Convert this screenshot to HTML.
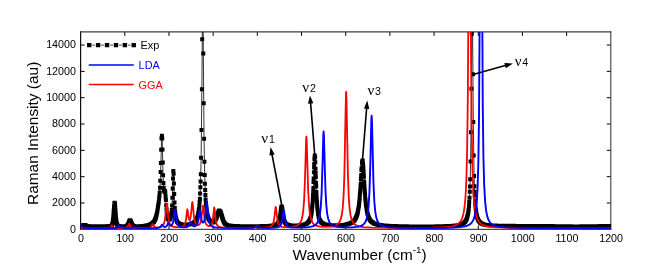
<!DOCTYPE html>
<html><head><meta charset="utf-8"><style>
html,body{margin:0;padding:0;background:#fff;}
svg{display:block;font-family:"Liberation Sans",sans-serif;}
</style></head><body>
<svg width="667" height="265" viewBox="0 0 667 265" style="will-change:transform">
<rect width="667" height="265" fill="#fff"/>
<defs><clipPath id="c"><rect x="80.6" y="31.9" width="530.4999999999999" height="197.5"/></clipPath></defs>
<path d="M124.78,31.90v4M124.78,229.30v-4M168.97,31.90v4M168.97,229.30v-4M213.15,31.90v4M213.15,229.30v-4M257.33,31.90v4M257.33,229.30v-4M301.52,31.90v4M301.52,229.30v-4M345.70,31.90v4M345.70,229.30v-4M389.88,31.90v4M389.88,229.30v-4M434.07,31.90v4M434.07,229.30v-4M478.25,31.90v4M478.25,229.30v-4M522.43,31.90v4M522.43,229.30v-4M566.62,31.90v4M566.62,229.30v-4M80.60,202.98h4M610.80,202.98h-4M80.60,176.66h4M610.80,176.66h-4M80.60,150.34h4M610.80,150.34h-4M80.60,124.02h4M610.80,124.02h-4M80.60,97.70h4M610.80,97.70h-4M80.60,71.38h4M610.80,71.38h-4M80.60,45.06h4M610.80,45.06h-4" stroke="#000" stroke-width="1" fill="none"/>
<path d="M80.6,31.349999999999998V229.8" stroke="#0d0d0d" stroke-width="1.2" fill="none"/><path d="M80.1,31.9H611.3" stroke="#3c3c3c" stroke-width="1.1" fill="none"/><path d="M610.8,31.349999999999998V229.8" stroke="#3c3c3c" stroke-width="1.1" fill="none"/><path d="M80.1,229.3H611.3" stroke="#1a1a1a" stroke-width="1.0" fill="none"/>
<g clip-path="url(#c)">
<path d="M83.25,225.46 L84.49,225.07 L85.55,225.29 L87.67,226.07 L92.09,226.22 L109.23,226.09 L111.17,225.80 L111.88,225.25 L112.41,223.86 L113.12,218.76 L114.18,205.62 L114.53,202.82 L114.71,202.43 L115.06,204.61 L116.12,218.96 L116.83,223.94 L117.36,225.32 L118.07,225.90 L120.54,226.26 L125.14,226.26 L126.73,225.89 L127.61,225.14 L128.49,223.47 L129.73,220.25 L130.09,219.89 L130.26,220.26 L130.44,220.26 L132.21,224.63 L133.09,225.69 L134.15,226.16 L137.33,226.35 L143.52,225.97 L147.94,225.21 L150.41,224.39 L152.18,223.35 L152.53,223.20 L153.59,222.00 L154.65,220.42 L155.71,218.06 L156.90,213.62 L157.83,208.19 L158.76,201.85 L159.69,192.53 L160.31,180.66 L160.93,163.09 L161.54,138.33 L161.85,135.66 L162.16,138.39 L163.09,175.26 L163.71,187.78 L164.02,190.49 L164.64,191.77 L164.95,190.68 L165.26,192.53 L166.80,213.15 L167.42,217.37 L167.73,218.49 L168.35,219.43 L168.66,219.69 L168.97,219.57 L169.28,219.68 L169.89,219.18 L170.20,218.77 L171.13,215.40 L171.75,210.14 L172.37,197.81 L173.30,170.91 L173.61,173.76 L174.53,202.47 L175.15,212.12 L175.77,217.20 L176.39,219.82 L177.01,221.29 L178.25,223.08 L179.22,223.65 L180.63,224.21 L183.28,224.63 L186.64,224.63 L190.35,224.21 L191.41,223.90 L191.59,223.75 L191.77,223.83 L193.00,223.20 L193.71,222.81 L194.59,222.21 L195.48,221.18 L195.83,220.81 L196.54,219.52 L196.89,218.35 L197.07,218.27 L197.60,216.91 L197.95,215.57 L198.66,211.81 L199.63,202.12 L200.14,193.40 L200.78,174.35 L201.13,157.65 L201.87,89.25 L202.60,4.16 L202.96,12.17 L204.07,138.76 L204.71,175.15 L205.37,195.09 L206.26,207.44 L206.96,212.71 L207.67,216.06 L207.85,216.33 L208.55,218.65 L208.91,219.15 L209.26,220.05 L209.79,220.87 L210.15,221.08 L210.32,221.44 L210.85,221.71 L211.03,221.94 L211.21,221.87 L211.56,222.27 L211.74,222.23 L211.91,222.43 L212.09,222.36 L212.27,222.53 L212.44,222.44 L212.62,222.54 L213.50,222.29 L213.68,222.39 L214.39,221.67 L214.56,221.26 L214.74,221.31 L215.27,220.34 L215.45,220.34 L215.62,219.61 L215.98,219.23 L217.21,215.43 L217.39,215.23 L217.75,213.56 L218.10,213.10 L218.45,211.44 L218.63,211.55 L219.16,210.49 L219.69,210.94 L220.04,210.73 L220.22,211.29 L220.40,211.44 L221.46,214.69 L222.87,219.34 L223.22,220.47 L223.58,221.19 L223.93,222.09 L225.17,223.87 L226.40,224.78 L228.35,225.39 L233.83,225.96 L246.20,226.31 L265.11,226.07 L272.36,225.62 L275.18,225.06 L276.60,224.42 L277.83,223.28 L278.54,222.23 L279.42,219.81 L279.96,216.76 L280.13,216.31 L281.19,207.96 L281.55,206.40 L281.90,206.95 L282.43,210.40 L283.31,217.41 L284.37,221.30 L285.26,223.05 L286.49,224.19 L288.08,224.90 L290.91,225.37 L296.57,225.47 L301.87,225.07 L304.52,224.52 L306.29,223.86 L307.70,222.86 L308.76,221.73 L310.00,219.53 L311.06,215.69 L311.94,209.76 L312.83,199.04 L313.71,178.43 L314.42,158.87 L314.77,155.43 L314.95,155.67 L315.13,157.31 L316.54,195.63 L317.25,206.47 L318.13,213.68 L318.66,216.28 L319.37,219.20 L319.54,219.36 L320.43,221.19 L320.78,221.76 L320.96,221.81 L321.66,222.74 L322.37,223.17 L322.72,223.54 L323.61,223.82 L323.79,224.04 L324.67,224.27 L325.20,224.49 L329.09,225.10 L335.63,225.35 L343.05,225.05 L345.70,224.73 L346.05,224.43 L347.47,224.19 L348.70,223.96 L349.06,223.81 L350.65,223.23 L352.42,222.36 L352.59,222.12 L352.77,222.12 L352.95,221.75 L353.12,221.81 L353.48,221.34 L354.01,221.03 L355.07,219.47 L355.24,219.08 L355.42,219.03 L355.60,218.19 L355.77,218.32 L356.83,215.39 L357.01,215.50 L357.36,213.85 L358.25,209.72 L358.42,208.22 L358.60,207.93 L359.66,198.25 L360.72,184.01 L361.08,176.71 L361.25,175.05 L361.43,169.97 L361.78,167.83 L362.14,161.50 L362.31,161.56 L362.49,161.96 L362.67,160.58 L363.37,168.37 L363.90,176.75 L364.08,181.56 L365.49,199.92 L366.02,205.12 L366.38,207.18 L366.91,210.59 L367.44,213.68 L367.97,214.92 L368.32,216.49 L369.03,218.23 L369.38,218.73 L370.09,220.12 L370.27,220.21 L370.44,220.66 L370.80,220.79 L371.15,221.35 L372.56,222.54 L372.92,222.88 L373.27,222.97 L375.04,223.87 L378.04,224.72 L383.34,225.47 L393.95,226.07 L417.10,226.43 L442.55,226.24 L453.68,225.75 L458.81,225.09 L461.28,224.46 L462.87,223.70 L463.76,223.16 L463.93,222.85 L464.64,222.38 L464.82,221.96 L465.53,221.18 L466.41,219.67 L466.76,218.64 L466.94,218.36 L467.47,216.09 L467.65,215.82 L468.71,209.06 L469.50,197.75 L470.21,179.24 L470.59,161.60 L471.00,132.33 L472.15,-0.52 L472.53,20.89 L473.30,122.01 L474.10,176.04 L474.58,191.80 L475.33,204.78 L476.13,211.96 L477.01,216.58 L477.54,218.38 L477.72,218.51 L478.43,220.34 L478.96,221.33 L479.13,221.38 L479.31,221.77 L480.90,223.09 L482.14,223.83 L482.67,223.98 L483.02,224.16 L486.38,224.97 L492.57,225.51 L509.89,225.83 L580.40,226.36 L610.62,225.99" stroke="#000" stroke-width="0.8" fill="none"/>
<path d="M81.3,223.5h4.0v4.0h-4.0zM81.8,223.2h4.0v4.0h-4.0zM82.3,223.1h4.0v4.0h-4.0zM82.8,223.1h4.0v4.0h-4.0zM83.4,223.2h4.0v4.0h-4.0zM83.9,223.5h4.0v4.0h-4.0zM84.4,223.7h4.0v4.0h-4.0zM85.0,223.9h4.0v4.0h-4.0zM85.5,224.0h4.0v4.0h-4.0zM86.0,224.1h4.0v4.0h-4.0zM86.6,224.2h4.0v4.0h-4.0zM87.1,224.2h4.0v4.0h-4.0zM87.6,224.2h4.0v4.0h-4.0zM88.1,224.2h4.0v4.0h-4.0zM88.7,224.2h4.0v4.0h-4.0zM89.2,224.2h4.0v4.0h-4.0zM89.7,224.2h4.0v4.0h-4.0zM90.3,224.2h4.0v4.0h-4.0zM90.8,224.2h4.0v4.0h-4.0zM91.3,224.2h4.0v4.0h-4.0zM91.9,224.2h4.0v4.0h-4.0zM92.4,224.2h4.0v4.0h-4.0zM92.9,224.2h4.0v4.0h-4.0zM93.4,224.2h4.0v4.0h-4.0zM94.0,224.2h4.0v4.0h-4.0zM94.5,224.2h4.0v4.0h-4.0zM95.0,224.2h4.0v4.0h-4.0zM95.6,224.2h4.0v4.0h-4.0zM96.1,224.2h4.0v4.0h-4.0zM96.6,224.2h4.0v4.0h-4.0zM97.2,224.2h4.0v4.0h-4.0zM97.7,224.2h4.0v4.0h-4.0zM98.2,224.2h4.0v4.0h-4.0zM98.7,224.2h4.0v4.0h-4.0zM99.3,224.2h4.0v4.0h-4.0zM99.8,224.2h4.0v4.0h-4.0zM100.3,224.2h4.0v4.0h-4.0zM100.9,224.2h4.0v4.0h-4.0zM101.4,224.2h4.0v4.0h-4.0zM101.9,224.2h4.0v4.0h-4.0zM102.5,224.2h4.0v4.0h-4.0zM103.0,224.2h4.0v4.0h-4.0zM103.5,224.2h4.0v4.0h-4.0zM104.0,224.2h4.0v4.0h-4.0zM104.6,224.2h4.0v4.0h-4.0zM105.1,224.2h4.0v4.0h-4.0zM105.6,224.2h4.0v4.0h-4.0zM106.2,224.1h4.0v4.0h-4.0zM106.7,224.1h4.0v4.0h-4.0zM107.2,224.1h4.0v4.0h-4.0zM107.8,224.0h4.0v4.0h-4.0zM108.3,224.0h4.0v4.0h-4.0zM108.8,223.9h4.0v4.0h-4.0zM109.4,223.7h4.0v4.0h-4.0zM109.9,223.2h4.0v4.0h-4.0zM110.2,222.4h4.0v4.0h-4.0zM110.4,221.9h4.0v4.0h-4.0zM110.6,221.1h4.0v4.0h-4.0zM110.8,219.8h4.0v4.0h-4.0zM110.9,218.6h4.0v4.0h-4.0zM111.1,216.8h4.0v4.0h-4.0zM111.3,214.7h4.0v4.0h-4.0zM111.5,212.6h4.0v4.0h-4.0zM111.6,210.1h4.0v4.0h-4.0zM111.8,207.7h4.0v4.0h-4.0zM112.0,205.2h4.0v4.0h-4.0zM112.2,203.6h4.0v4.0h-4.0zM112.4,202.0h4.0v4.0h-4.0zM112.5,200.8h4.0v4.0h-4.0zM112.9,201.4h4.0v4.0h-4.0zM113.1,202.6h4.0v4.0h-4.0zM113.2,205.0h4.0v4.0h-4.0zM113.4,207.7h4.0v4.0h-4.0zM113.6,210.1h4.0v4.0h-4.0zM113.8,212.9h4.0v4.0h-4.0zM113.9,215.0h4.0v4.0h-4.0zM114.1,217.0h4.0v4.0h-4.0zM114.3,218.5h4.0v4.0h-4.0zM114.5,219.9h4.0v4.0h-4.0zM114.7,221.1h4.0v4.0h-4.0zM114.8,221.9h4.0v4.0h-4.0zM115.0,222.6h4.0v4.0h-4.0zM115.4,223.3h4.0v4.0h-4.0zM115.9,223.8h4.0v4.0h-4.0zM116.4,224.0h4.0v4.0h-4.0zM117.0,224.1h4.0v4.0h-4.0zM117.5,224.2h4.0v4.0h-4.0zM118.0,224.2h4.0v4.0h-4.0zM118.5,224.3h4.0v4.0h-4.0zM119.1,224.3h4.0v4.0h-4.0zM119.6,224.3h4.0v4.0h-4.0zM120.1,224.3h4.0v4.0h-4.0zM120.7,224.3h4.0v4.0h-4.0zM121.2,224.3h4.0v4.0h-4.0zM121.7,224.3h4.0v4.0h-4.0zM122.3,224.3h4.0v4.0h-4.0zM122.8,224.3h4.0v4.0h-4.0zM123.3,224.2h4.0v4.0h-4.0zM123.8,224.2h4.0v4.0h-4.0zM124.4,224.0h4.0v4.0h-4.0zM124.9,223.8h4.0v4.0h-4.0zM125.4,223.3h4.0v4.0h-4.0zM125.8,222.9h4.0v4.0h-4.0zM126.1,222.3h4.0v4.0h-4.0zM126.5,221.5h4.0v4.0h-4.0zM126.8,220.4h4.0v4.0h-4.0zM127.2,219.5h4.0v4.0h-4.0zM127.4,219.0h4.0v4.0h-4.0zM127.7,218.2h4.0v4.0h-4.0zM128.3,218.3h4.0v4.0h-4.0zM128.8,219.2h4.0v4.0h-4.0zM129.1,220.1h4.0v4.0h-4.0zM129.5,221.0h4.0v4.0h-4.0zM129.7,221.4h4.0v4.0h-4.0zM130.0,222.2h4.0v4.0h-4.0zM130.4,222.9h4.0v4.0h-4.0zM130.7,223.4h4.0v4.0h-4.0zM131.3,223.8h4.0v4.0h-4.0zM131.8,224.1h4.0v4.0h-4.0zM132.3,224.2h4.0v4.0h-4.0zM132.9,224.3h4.0v4.0h-4.0zM133.4,224.3h4.0v4.0h-4.0zM133.9,224.3h4.0v4.0h-4.0zM134.4,224.4h4.0v4.0h-4.0zM135.0,224.4h4.0v4.0h-4.0zM135.5,224.4h4.0v4.0h-4.0zM136.0,224.3h4.0v4.0h-4.0zM136.6,224.3h4.0v4.0h-4.0zM137.1,224.3h4.0v4.0h-4.0zM137.6,224.3h4.0v4.0h-4.0zM138.2,224.3h4.0v4.0h-4.0zM138.7,224.2h4.0v4.0h-4.0zM139.2,224.2h4.0v4.0h-4.0zM139.7,224.1h4.0v4.0h-4.0zM140.3,224.1h4.0v4.0h-4.0zM140.8,224.0h4.0v4.0h-4.0zM141.3,224.0h4.0v4.0h-4.0zM141.9,223.9h4.0v4.0h-4.0zM142.4,223.9h4.0v4.0h-4.0zM142.9,223.8h4.0v4.0h-4.0zM143.5,223.7h4.0v4.0h-4.0zM144.0,223.6h4.0v4.0h-4.0zM144.5,223.5h4.0v4.0h-4.0zM145.1,223.4h4.0v4.0h-4.0zM145.6,223.3h4.0v4.0h-4.0zM146.1,223.2h4.0v4.0h-4.0zM146.6,223.0h4.0v4.0h-4.0zM147.2,222.9h4.0v4.0h-4.0zM147.7,222.7h4.0v4.0h-4.0zM148.2,222.5h4.0v4.0h-4.0zM148.8,222.3h4.0v4.0h-4.0zM149.3,222.0h4.0v4.0h-4.0zM149.8,221.6h4.0v4.0h-4.0zM150.4,221.2h4.0v4.0h-4.0zM150.9,220.8h4.0v4.0h-4.0zM151.2,220.3h4.0v4.0h-4.0zM151.8,219.9h4.0v4.0h-4.0zM152.1,219.2h4.0v4.0h-4.0zM152.7,218.4h4.0v4.0h-4.0zM153.0,217.6h4.0v4.0h-4.0zM153.4,217.0h4.0v4.0h-4.0zM153.7,216.1h4.0v4.0h-4.0zM153.9,215.6h4.0v4.0h-4.0zM154.1,214.8h4.0v4.0h-4.0zM154.2,214.1h4.0v4.0h-4.0zM154.4,213.5h4.0v4.0h-4.0zM154.6,212.7h4.0v4.0h-4.0zM154.9,211.6h4.0v4.0h-4.0zM155.2,209.9h4.0v4.0h-4.0zM155.5,208.3h4.0v4.0h-4.0zM155.8,206.2h4.0v4.0h-4.0zM156.1,203.7h4.0v4.0h-4.0zM156.5,201.7h4.0v4.0h-4.0zM156.8,199.8h4.0v4.0h-4.0zM157.1,196.6h4.0v4.0h-4.0zM157.4,193.7h4.0v4.0h-4.0zM157.7,190.5h4.0v4.0h-4.0zM158.0,185.7h4.0v4.0h-4.0zM158.3,178.7h4.0v4.0h-4.0zM158.6,170.0h4.0v4.0h-4.0zM158.9,161.1h4.0v4.0h-4.0zM159.2,147.7h4.0v4.0h-4.0zM159.5,136.3h4.0v4.0h-4.0zM159.9,133.7h4.0v4.0h-4.0zM160.2,136.4h4.0v4.0h-4.0zM160.5,147.4h4.0v4.0h-4.0zM160.8,160.4h4.0v4.0h-4.0zM161.1,173.3h4.0v4.0h-4.0zM161.4,181.0h4.0v4.0h-4.0zM161.7,185.8h4.0v4.0h-4.0zM162.0,188.5h4.0v4.0h-4.0zM162.3,189.0h4.0v4.0h-4.0zM162.6,189.8h4.0v4.0h-4.0zM162.9,188.7h4.0v4.0h-4.0zM163.3,190.5h4.0v4.0h-4.0zM163.6,194.5h4.0v4.0h-4.0zM163.9,198.0h4.0v4.0h-4.0zM164.2,203.2h4.0v4.0h-4.0zM164.5,207.4h4.0v4.0h-4.0zM164.8,211.1h4.0v4.0h-4.0zM165.1,213.5h4.0v4.0h-4.0zM165.4,215.4h4.0v4.0h-4.0zM165.7,216.5h4.0v4.0h-4.0zM166.0,217.0h4.0v4.0h-4.0zM166.7,217.7h4.0v4.0h-4.0zM167.3,217.7h4.0v4.0h-4.0zM167.9,217.2h4.0v4.0h-4.0zM168.5,215.9h4.0v4.0h-4.0zM168.8,214.5h4.0v4.0h-4.0zM169.1,213.4h4.0v4.0h-4.0zM169.4,211.1h4.0v4.0h-4.0zM169.8,208.1h4.0v4.0h-4.0zM170.1,203.4h4.0v4.0h-4.0zM170.4,195.8h4.0v4.0h-4.0zM170.7,186.5h4.0v4.0h-4.0zM171.0,176.5h4.0v4.0h-4.0zM171.3,168.9h4.0v4.0h-4.0zM171.6,171.8h4.0v4.0h-4.0zM171.9,181.4h4.0v4.0h-4.0zM172.2,192.1h4.0v4.0h-4.0zM172.5,200.5h4.0v4.0h-4.0zM172.8,206.0h4.0v4.0h-4.0zM173.2,210.1h4.0v4.0h-4.0zM173.5,213.0h4.0v4.0h-4.0zM173.8,215.2h4.0v4.0h-4.0zM174.1,216.8h4.0v4.0h-4.0zM174.4,217.8h4.0v4.0h-4.0zM174.7,218.8h4.0v4.0h-4.0zM175.0,219.3h4.0v4.0h-4.0zM175.3,219.9h4.0v4.0h-4.0zM175.9,220.7h4.0v4.0h-4.0zM176.6,221.2h4.0v4.0h-4.0zM177.0,221.6h4.0v4.0h-4.0zM177.6,221.9h4.0v4.0h-4.0zM178.1,222.1h4.0v4.0h-4.0zM178.6,222.2h4.0v4.0h-4.0zM179.2,222.3h4.0v4.0h-4.0zM179.7,222.4h4.0v4.0h-4.0zM180.2,222.5h4.0v4.0h-4.0zM180.8,222.6h4.0v4.0h-4.0zM181.3,222.6h4.0v4.0h-4.0zM181.8,222.6h4.0v4.0h-4.0zM182.3,222.7h4.0v4.0h-4.0zM182.9,222.7h4.0v4.0h-4.0zM183.4,222.7h4.0v4.0h-4.0zM183.9,222.6h4.0v4.0h-4.0zM184.5,222.6h4.0v4.0h-4.0zM185.0,222.6h4.0v4.0h-4.0zM185.5,222.6h4.0v4.0h-4.0zM186.1,222.5h4.0v4.0h-4.0zM186.6,222.5h4.0v4.0h-4.0zM187.1,222.4h4.0v4.0h-4.0zM187.6,222.3h4.0v4.0h-4.0zM188.2,222.2h4.0v4.0h-4.0zM188.7,222.1h4.0v4.0h-4.0zM189.2,222.0h4.0v4.0h-4.0zM189.8,221.8h4.0v4.0h-4.0zM190.3,221.5h4.0v4.0h-4.0zM190.8,221.4h4.0v4.0h-4.0zM191.4,221.1h4.0v4.0h-4.0zM191.9,220.6h4.0v4.0h-4.0zM192.4,220.3h4.0v4.0h-4.0zM192.9,219.8h4.0v4.0h-4.0zM193.5,219.2h4.0v4.0h-4.0zM194.0,218.4h4.0v4.0h-4.0zM194.4,217.9h4.0v4.0h-4.0zM194.7,217.0h4.0v4.0h-4.0zM194.9,216.4h4.0v4.0h-4.0zM195.2,215.8h4.0v4.0h-4.0zM195.4,215.2h4.0v4.0h-4.0zM195.8,214.0h4.0v4.0h-4.0zM196.1,212.3h4.0v4.0h-4.0zM196.3,211.4h4.0v4.0h-4.0zM196.5,210.6h4.0v4.0h-4.0zM196.7,209.8h4.0v4.0h-4.0zM196.8,208.0h4.0v4.0h-4.0zM197.0,206.9h4.0v4.0h-4.0zM197.4,203.5h4.0v4.0h-4.0zM197.6,200.1h4.0v4.0h-4.0zM197.9,196.9h4.0v4.0h-4.0zM198.1,191.4h4.0v4.0h-4.0zM198.4,185.2h4.0v4.0h-4.0zM198.6,179.6h4.0v4.0h-4.0zM198.8,172.3h4.0v4.0h-4.0zM199.1,155.7h4.0v4.0h-4.0zM199.5,128.1h4.0v4.0h-4.0zM199.9,87.3h4.0v4.0h-4.0zM200.2,37.2h4.0v4.0h-4.0zM201.3,51.6h4.0v4.0h-4.0zM201.7,101.3h4.0v4.0h-4.0zM202.1,136.8h4.0v4.0h-4.0zM202.4,159.8h4.0v4.0h-4.0zM202.7,173.1h4.0v4.0h-4.0zM202.9,181.7h4.0v4.0h-4.0zM203.2,188.1h4.0v4.0h-4.0zM203.4,193.1h4.0v4.0h-4.0zM203.6,197.6h4.0v4.0h-4.0zM203.9,201.2h4.0v4.0h-4.0zM204.1,203.2h4.0v4.0h-4.0zM204.3,205.4h4.0v4.0h-4.0zM204.4,206.9h4.0v4.0h-4.0zM204.6,208.5h4.0v4.0h-4.0zM204.8,209.3h4.0v4.0h-4.0zM205.0,210.7h4.0v4.0h-4.0zM205.1,211.5h4.0v4.0h-4.0zM205.3,212.6h4.0v4.0h-4.0zM205.5,213.3h4.0v4.0h-4.0zM205.7,214.1h4.0v4.0h-4.0zM206.0,215.1h4.0v4.0h-4.0zM206.2,215.7h4.0v4.0h-4.0zM206.4,216.3h4.0v4.0h-4.0zM206.7,216.9h4.0v4.0h-4.0zM207.1,217.8h4.0v4.0h-4.0zM207.6,218.5h4.0v4.0h-4.0zM208.1,219.1h4.0v4.0h-4.0zM208.7,219.6h4.0v4.0h-4.0zM209.2,219.9h4.0v4.0h-4.0zM209.7,220.2h4.0v4.0h-4.0zM210.3,220.5h4.0v4.0h-4.0zM210.8,220.4h4.0v4.0h-4.0zM211.3,220.4h4.0v4.0h-4.0zM211.9,220.1h4.0v4.0h-4.0zM212.4,219.7h4.0v4.0h-4.0zM212.9,219.0h4.0v4.0h-4.0zM213.3,218.3h4.0v4.0h-4.0zM213.6,217.6h4.0v4.0h-4.0zM214.2,216.7h4.0v4.0h-4.0zM214.3,216.1h4.0v4.0h-4.0zM214.5,215.5h4.0v4.0h-4.0zM214.7,215.1h4.0v4.0h-4.0zM214.9,214.4h4.0v4.0h-4.0zM215.2,213.4h4.0v4.0h-4.0zM215.6,212.2h4.0v4.0h-4.0zM215.7,211.6h4.0v4.0h-4.0zM216.1,211.1h4.0v4.0h-4.0zM216.3,210.5h4.0v4.0h-4.0zM216.5,209.4h4.0v4.0h-4.0zM217.0,209.0h4.0v4.0h-4.0zM217.2,208.5h4.0v4.0h-4.0zM217.7,208.9h4.0v4.0h-4.0zM218.2,209.3h4.0v4.0h-4.0zM218.6,210.0h4.0v4.0h-4.0zM218.7,210.5h4.0v4.0h-4.0zM218.9,211.0h4.0v4.0h-4.0zM219.1,211.6h4.0v4.0h-4.0zM219.5,212.7h4.0v4.0h-4.0zM219.6,213.5h4.0v4.0h-4.0zM219.8,214.0h4.0v4.0h-4.0zM220.0,214.6h4.0v4.0h-4.0zM220.2,215.1h4.0v4.0h-4.0zM220.3,215.7h4.0v4.0h-4.0zM220.5,216.3h4.0v4.0h-4.0zM220.7,217.0h4.0v4.0h-4.0zM221.0,217.7h4.0v4.0h-4.0zM221.2,218.5h4.0v4.0h-4.0zM221.6,219.2h4.0v4.0h-4.0zM221.9,220.1h4.0v4.0h-4.0zM222.3,220.7h4.0v4.0h-4.0zM222.6,221.1h4.0v4.0h-4.0zM223.0,221.7h4.0v4.0h-4.0zM223.5,222.2h4.0v4.0h-4.0zM224.1,222.6h4.0v4.0h-4.0zM224.6,222.8h4.0v4.0h-4.0zM225.1,223.1h4.0v4.0h-4.0zM225.6,223.2h4.0v4.0h-4.0zM226.2,223.4h4.0v4.0h-4.0zM226.7,223.5h4.0v4.0h-4.0zM227.2,223.5h4.0v4.0h-4.0zM227.8,223.6h4.0v4.0h-4.0zM228.3,223.7h4.0v4.0h-4.0zM228.8,223.7h4.0v4.0h-4.0zM229.4,223.8h4.0v4.0h-4.0zM229.9,223.8h4.0v4.0h-4.0zM230.4,223.9h4.0v4.0h-4.0zM230.9,223.9h4.0v4.0h-4.0zM231.5,223.9h4.0v4.0h-4.0zM232.0,224.0h4.0v4.0h-4.0zM232.5,224.0h4.0v4.0h-4.0zM233.1,224.0h4.0v4.0h-4.0zM233.6,224.1h4.0v4.0h-4.0zM234.1,224.1h4.0v4.0h-4.0zM234.7,224.1h4.0v4.0h-4.0zM235.2,224.1h4.0v4.0h-4.0zM235.7,224.1h4.0v4.0h-4.0zM236.2,224.2h4.0v4.0h-4.0zM236.8,224.2h4.0v4.0h-4.0zM237.3,224.2h4.0v4.0h-4.0zM237.8,224.2h4.0v4.0h-4.0zM238.4,224.2h4.0v4.0h-4.0zM238.9,224.2h4.0v4.0h-4.0zM239.4,224.2h4.0v4.0h-4.0zM240.0,224.3h4.0v4.0h-4.0zM240.5,224.3h4.0v4.0h-4.0zM241.0,224.3h4.0v4.0h-4.0zM241.5,224.3h4.0v4.0h-4.0zM242.1,224.3h4.0v4.0h-4.0zM242.6,224.3h4.0v4.0h-4.0zM243.1,224.3h4.0v4.0h-4.0zM243.7,224.3h4.0v4.0h-4.0zM244.2,224.3h4.0v4.0h-4.0zM244.7,224.3h4.0v4.0h-4.0zM245.3,224.3h4.0v4.0h-4.0zM245.8,224.3h4.0v4.0h-4.0zM246.3,224.3h4.0v4.0h-4.0zM246.9,224.3h4.0v4.0h-4.0zM247.4,224.3h4.0v4.0h-4.0zM247.9,224.3h4.0v4.0h-4.0zM248.4,224.3h4.0v4.0h-4.0zM249.0,224.3h4.0v4.0h-4.0zM249.5,224.3h4.0v4.0h-4.0zM250.0,224.3h4.0v4.0h-4.0zM250.6,224.3h4.0v4.0h-4.0zM251.1,224.3h4.0v4.0h-4.0zM251.6,224.3h4.0v4.0h-4.0zM252.2,224.3h4.0v4.0h-4.0zM252.7,224.3h4.0v4.0h-4.0zM253.2,224.3h4.0v4.0h-4.0zM253.7,224.3h4.0v4.0h-4.0zM254.3,224.3h4.0v4.0h-4.0zM254.8,224.2h4.0v4.0h-4.0zM255.3,224.2h4.0v4.0h-4.0zM255.9,224.2h4.0v4.0h-4.0zM256.4,224.2h4.0v4.0h-4.0zM256.9,224.2h4.0v4.0h-4.0zM257.5,224.2h4.0v4.0h-4.0zM258.0,224.2h4.0v4.0h-4.0zM258.5,224.2h4.0v4.0h-4.0zM259.0,224.2h4.0v4.0h-4.0zM259.6,224.2h4.0v4.0h-4.0zM260.1,224.1h4.0v4.0h-4.0zM260.6,224.1h4.0v4.0h-4.0zM261.2,224.1h4.0v4.0h-4.0zM261.7,224.1h4.0v4.0h-4.0zM262.2,224.1h4.0v4.0h-4.0zM262.8,224.1h4.0v4.0h-4.0zM263.3,224.1h4.0v4.0h-4.0zM263.8,224.0h4.0v4.0h-4.0zM264.3,224.0h4.0v4.0h-4.0zM264.9,224.0h4.0v4.0h-4.0zM265.4,224.0h4.0v4.0h-4.0zM265.9,224.0h4.0v4.0h-4.0zM266.5,223.9h4.0v4.0h-4.0zM267.0,223.9h4.0v4.0h-4.0zM267.5,223.9h4.0v4.0h-4.0zM268.1,223.8h4.0v4.0h-4.0zM268.6,223.8h4.0v4.0h-4.0zM269.1,223.8h4.0v4.0h-4.0zM269.6,223.7h4.0v4.0h-4.0zM270.2,223.6h4.0v4.0h-4.0zM270.7,223.6h4.0v4.0h-4.0zM271.2,223.5h4.0v4.0h-4.0zM271.8,223.4h4.0v4.0h-4.0zM272.3,223.3h4.0v4.0h-4.0zM272.8,223.2h4.0v4.0h-4.0zM273.4,223.0h4.0v4.0h-4.0zM273.9,222.8h4.0v4.0h-4.0zM274.4,222.5h4.0v4.0h-4.0zM275.0,222.2h4.0v4.0h-4.0zM275.5,221.7h4.0v4.0h-4.0zM276.0,221.0h4.0v4.0h-4.0zM276.4,220.5h4.0v4.0h-4.0zM276.7,219.6h4.0v4.0h-4.0zM276.9,219.2h4.0v4.0h-4.0zM277.2,218.3h4.0v4.0h-4.0zM277.4,217.8h4.0v4.0h-4.0zM277.6,216.8h4.0v4.0h-4.0zM277.8,216.1h4.0v4.0h-4.0zM278.0,214.8h4.0v4.0h-4.0zM278.3,212.7h4.0v4.0h-4.0zM278.5,211.2h4.0v4.0h-4.0zM278.7,210.0h4.0v4.0h-4.0zM278.8,208.6h4.0v4.0h-4.0zM279.0,207.0h4.0v4.0h-4.0zM279.2,206.0h4.0v4.0h-4.0zM279.4,205.0h4.0v4.0h-4.0zM279.5,204.4h4.0v4.0h-4.0zM279.9,204.9h4.0v4.0h-4.0zM280.1,205.6h4.0v4.0h-4.0zM280.3,207.1h4.0v4.0h-4.0zM280.4,208.4h4.0v4.0h-4.0zM280.6,210.1h4.0v4.0h-4.0zM280.8,211.1h4.0v4.0h-4.0zM281.0,212.9h4.0v4.0h-4.0zM281.1,213.7h4.0v4.0h-4.0zM281.3,215.4h4.0v4.0h-4.0zM281.5,216.1h4.0v4.0h-4.0zM281.7,217.0h4.0v4.0h-4.0zM281.8,217.4h4.0v4.0h-4.0zM282.0,218.2h4.0v4.0h-4.0zM282.2,218.9h4.0v4.0h-4.0zM282.6,219.6h4.0v4.0h-4.0zM282.7,220.1h4.0v4.0h-4.0zM283.1,220.8h4.0v4.0h-4.0zM283.6,221.3h4.0v4.0h-4.0zM284.1,222.0h4.0v4.0h-4.0zM284.7,222.3h4.0v4.0h-4.0zM285.2,222.6h4.0v4.0h-4.0zM285.7,222.8h4.0v4.0h-4.0zM286.3,223.0h4.0v4.0h-4.0zM286.8,223.1h4.0v4.0h-4.0zM287.3,223.2h4.0v4.0h-4.0zM287.9,223.3h4.0v4.0h-4.0zM288.4,223.3h4.0v4.0h-4.0zM288.9,223.4h4.0v4.0h-4.0zM289.4,223.4h4.0v4.0h-4.0zM290.0,223.4h4.0v4.0h-4.0zM290.5,223.5h4.0v4.0h-4.0zM291.0,223.5h4.0v4.0h-4.0zM291.6,223.5h4.0v4.0h-4.0zM292.1,223.5h4.0v4.0h-4.0zM292.6,223.5h4.0v4.0h-4.0zM293.2,223.5h4.0v4.0h-4.0zM293.7,223.5h4.0v4.0h-4.0zM294.2,223.5h4.0v4.0h-4.0zM294.7,223.5h4.0v4.0h-4.0zM295.3,223.4h4.0v4.0h-4.0zM295.8,223.4h4.0v4.0h-4.0zM296.3,223.4h4.0v4.0h-4.0zM296.9,223.4h4.0v4.0h-4.0zM297.4,223.3h4.0v4.0h-4.0zM297.9,223.3h4.0v4.0h-4.0zM298.5,223.2h4.0v4.0h-4.0zM299.0,223.2h4.0v4.0h-4.0zM299.5,223.1h4.0v4.0h-4.0zM300.0,223.0h4.0v4.0h-4.0zM300.6,222.9h4.0v4.0h-4.0zM301.1,222.8h4.0v4.0h-4.0zM301.6,222.8h4.0v4.0h-4.0zM302.2,222.6h4.0v4.0h-4.0zM302.7,222.4h4.0v4.0h-4.0zM303.2,222.3h4.0v4.0h-4.0zM303.8,222.0h4.0v4.0h-4.0zM304.3,221.9h4.0v4.0h-4.0zM304.8,221.6h4.0v4.0h-4.0zM305.3,221.2h4.0v4.0h-4.0zM305.9,220.6h4.0v4.0h-4.0zM306.4,220.1h4.0v4.0h-4.0zM306.9,219.4h4.0v4.0h-4.0zM307.3,218.8h4.0v4.0h-4.0zM307.6,218.2h4.0v4.0h-4.0zM308.0,217.5h4.0v4.0h-4.0zM308.2,216.9h4.0v4.0h-4.0zM308.4,216.4h4.0v4.0h-4.0zM308.5,215.7h4.0v4.0h-4.0zM308.9,214.4h4.0v4.0h-4.0zM309.1,213.7h4.0v4.0h-4.0zM309.2,212.6h4.0v4.0h-4.0zM309.4,211.6h4.0v4.0h-4.0zM309.6,210.6h4.0v4.0h-4.0zM309.8,209.2h4.0v4.0h-4.0zM309.9,207.8h4.0v4.0h-4.0zM310.1,205.9h4.0v4.0h-4.0zM310.3,204.3h4.0v4.0h-4.0zM310.5,202.0h4.0v4.0h-4.0zM310.7,199.7h4.0v4.0h-4.0zM310.8,197.0h4.0v4.0h-4.0zM311.0,193.3h4.0v4.0h-4.0zM311.2,189.5h4.0v4.0h-4.0zM311.4,186.0h4.0v4.0h-4.0zM311.5,180.1h4.0v4.0h-4.0zM311.7,176.4h4.0v4.0h-4.0zM311.9,170.2h4.0v4.0h-4.0zM312.1,165.3h4.0v4.0h-4.0zM312.2,162.1h4.0v4.0h-4.0zM312.4,156.9h4.0v4.0h-4.0zM312.6,155.6h4.0v4.0h-4.0zM312.8,153.4h4.0v4.0h-4.0zM313.1,155.3h4.0v4.0h-4.0zM313.3,160.2h4.0v4.0h-4.0zM313.5,166.7h4.0v4.0h-4.0zM313.7,171.0h4.0v4.0h-4.0zM313.8,175.0h4.0v4.0h-4.0zM314.0,180.8h4.0v4.0h-4.0zM314.2,184.6h4.0v4.0h-4.0zM314.4,190.0h4.0v4.0h-4.0zM314.5,193.6h4.0v4.0h-4.0zM314.7,197.2h4.0v4.0h-4.0zM314.9,199.6h4.0v4.0h-4.0zM315.1,201.6h4.0v4.0h-4.0zM315.2,204.5h4.0v4.0h-4.0zM315.4,205.9h4.0v4.0h-4.0zM315.6,207.7h4.0v4.0h-4.0zM315.8,209.1h4.0v4.0h-4.0zM316.0,210.6h4.0v4.0h-4.0zM316.1,211.7h4.0v4.0h-4.0zM316.3,212.3h4.0v4.0h-4.0zM316.5,213.8h4.0v4.0h-4.0zM316.7,214.3h4.0v4.0h-4.0zM316.8,214.9h4.0v4.0h-4.0zM317.0,215.7h4.0v4.0h-4.0zM317.4,217.2h4.0v4.0h-4.0zM317.7,217.9h4.0v4.0h-4.0zM318.1,218.5h4.0v4.0h-4.0zM318.4,219.2h4.0v4.0h-4.0zM318.8,219.8h4.0v4.0h-4.0zM319.3,220.4h4.0v4.0h-4.0zM319.8,220.8h4.0v4.0h-4.0zM320.4,221.2h4.0v4.0h-4.0zM320.9,221.6h4.0v4.0h-4.0zM321.4,221.8h4.0v4.0h-4.0zM322.0,222.0h4.0v4.0h-4.0zM322.5,222.3h4.0v4.0h-4.0zM323.0,222.5h4.0v4.0h-4.0zM323.6,222.5h4.0v4.0h-4.0zM324.1,222.7h4.0v4.0h-4.0zM324.6,222.8h4.0v4.0h-4.0zM325.1,222.8h4.0v4.0h-4.0zM325.7,223.0h4.0v4.0h-4.0zM326.2,223.0h4.0v4.0h-4.0zM326.7,223.1h4.0v4.0h-4.0zM327.3,223.1h4.0v4.0h-4.0zM327.8,223.2h4.0v4.0h-4.0zM328.3,223.2h4.0v4.0h-4.0zM328.9,223.2h4.0v4.0h-4.0zM329.4,223.3h4.0v4.0h-4.0zM329.9,223.3h4.0v4.0h-4.0zM330.4,223.3h4.0v4.0h-4.0zM331.0,223.3h4.0v4.0h-4.0zM331.5,223.3h4.0v4.0h-4.0zM332.0,223.3h4.0v4.0h-4.0zM332.6,223.3h4.0v4.0h-4.0zM333.1,223.3h4.0v4.0h-4.0zM333.6,223.3h4.0v4.0h-4.0zM334.2,223.3h4.0v4.0h-4.0zM334.7,223.3h4.0v4.0h-4.0zM335.2,223.3h4.0v4.0h-4.0zM335.7,223.3h4.0v4.0h-4.0zM336.3,223.3h4.0v4.0h-4.0zM336.8,223.3h4.0v4.0h-4.0zM337.3,223.3h4.0v4.0h-4.0zM337.9,223.3h4.0v4.0h-4.0zM338.4,223.2h4.0v4.0h-4.0zM338.9,223.2h4.0v4.0h-4.0zM339.5,223.2h4.0v4.0h-4.0zM340.0,223.1h4.0v4.0h-4.0zM340.5,223.1h4.0v4.0h-4.0zM341.0,223.0h4.0v4.0h-4.0zM341.6,223.0h4.0v4.0h-4.0zM342.1,222.9h4.0v4.0h-4.0zM342.6,222.9h4.0v4.0h-4.0zM343.2,222.8h4.0v4.0h-4.0zM343.7,222.7h4.0v4.0h-4.0zM344.2,222.4h4.0v4.0h-4.0zM344.8,222.3h4.0v4.0h-4.0zM345.3,222.3h4.0v4.0h-4.0zM345.8,222.1h4.0v4.0h-4.0zM346.4,221.9h4.0v4.0h-4.0zM346.9,221.8h4.0v4.0h-4.0zM347.4,221.6h4.0v4.0h-4.0zM347.9,221.4h4.0v4.0h-4.0zM348.5,221.3h4.0v4.0h-4.0zM349.0,221.1h4.0v4.0h-4.0zM349.5,220.8h4.0v4.0h-4.0zM350.1,220.5h4.0v4.0h-4.0zM350.6,220.1h4.0v4.0h-4.0zM351.1,219.8h4.0v4.0h-4.0zM351.5,219.3h4.0v4.0h-4.0zM352.0,219.0h4.0v4.0h-4.0zM352.4,218.5h4.0v4.0h-4.0zM352.9,217.8h4.0v4.0h-4.0zM353.2,217.1h4.0v4.0h-4.0zM353.6,216.2h4.0v4.0h-4.0zM354.0,215.7h4.0v4.0h-4.0zM354.1,215.2h4.0v4.0h-4.0zM354.5,214.6h4.0v4.0h-4.0zM354.7,214.0h4.0v4.0h-4.0zM354.8,213.4h4.0v4.0h-4.0zM355.2,212.4h4.0v4.0h-4.0zM355.4,211.9h4.0v4.0h-4.0zM355.5,211.2h4.0v4.0h-4.0zM355.7,210.3h4.0v4.0h-4.0zM355.9,209.4h4.0v4.0h-4.0zM356.1,208.4h4.0v4.0h-4.0zM356.2,207.7h4.0v4.0h-4.0zM356.4,206.2h4.0v4.0h-4.0zM356.8,204.4h4.0v4.0h-4.0zM357.0,203.1h4.0v4.0h-4.0zM357.1,201.2h4.0v4.0h-4.0zM357.3,199.8h4.0v4.0h-4.0zM357.5,197.7h4.0v4.0h-4.0zM357.7,196.3h4.0v4.0h-4.0zM357.8,193.3h4.0v4.0h-4.0zM358.0,191.3h4.0v4.0h-4.0zM358.2,189.5h4.0v4.0h-4.0zM358.4,187.5h4.0v4.0h-4.0zM358.5,184.6h4.0v4.0h-4.0zM358.7,182.0h4.0v4.0h-4.0zM358.9,177.4h4.0v4.0h-4.0zM359.1,174.7h4.0v4.0h-4.0zM359.3,173.0h4.0v4.0h-4.0zM359.4,168.0h4.0v4.0h-4.0zM359.6,166.8h4.0v4.0h-4.0zM359.8,165.8h4.0v4.0h-4.0zM360.0,161.2h4.0v4.0h-4.0zM360.1,159.5h4.0v4.0h-4.0zM360.5,160.0h4.0v4.0h-4.0zM360.7,158.6h4.0v4.0h-4.0zM360.8,160.9h4.0v4.0h-4.0zM361.0,162.1h4.0v4.0h-4.0zM361.2,163.8h4.0v4.0h-4.0zM361.4,166.4h4.0v4.0h-4.0zM361.6,169.6h4.0v4.0h-4.0zM361.7,172.9h4.0v4.0h-4.0zM361.9,174.7h4.0v4.0h-4.0zM362.1,179.6h4.0v4.0h-4.0zM362.3,181.0h4.0v4.0h-4.0zM362.4,183.9h4.0v4.0h-4.0zM362.6,186.5h4.0v4.0h-4.0zM362.8,189.5h4.0v4.0h-4.0zM363.0,191.6h4.0v4.0h-4.0zM363.1,193.6h4.0v4.0h-4.0zM363.3,196.4h4.0v4.0h-4.0zM363.5,197.9h4.0v4.0h-4.0zM363.7,199.6h4.0v4.0h-4.0zM363.8,201.7h4.0v4.0h-4.0zM364.0,203.1h4.0v4.0h-4.0zM364.2,203.7h4.0v4.0h-4.0zM364.4,205.2h4.0v4.0h-4.0zM364.6,206.8h4.0v4.0h-4.0zM364.7,207.5h4.0v4.0h-4.0zM364.9,208.6h4.0v4.0h-4.0zM365.1,209.3h4.0v4.0h-4.0zM365.3,210.2h4.0v4.0h-4.0zM365.4,211.7h4.0v4.0h-4.0zM365.8,212.3h4.0v4.0h-4.0zM366.0,212.9h4.0v4.0h-4.0zM366.1,213.9h4.0v4.0h-4.0zM366.3,214.5h4.0v4.0h-4.0zM366.7,215.3h4.0v4.0h-4.0zM367.0,216.2h4.0v4.0h-4.0zM367.4,216.7h4.0v4.0h-4.0zM367.7,217.6h4.0v4.0h-4.0zM368.1,218.1h4.0v4.0h-4.0zM368.4,218.7h4.0v4.0h-4.0zM369.0,219.2h4.0v4.0h-4.0zM369.5,219.6h4.0v4.0h-4.0zM370.0,220.1h4.0v4.0h-4.0zM370.6,220.5h4.0v4.0h-4.0zM371.1,220.8h4.0v4.0h-4.0zM371.6,221.2h4.0v4.0h-4.0zM372.2,221.5h4.0v4.0h-4.0zM372.7,221.8h4.0v4.0h-4.0zM373.2,221.9h4.0v4.0h-4.0zM373.7,222.1h4.0v4.0h-4.0zM374.3,222.3h4.0v4.0h-4.0zM374.8,222.4h4.0v4.0h-4.0zM375.3,222.5h4.0v4.0h-4.0zM375.9,222.7h4.0v4.0h-4.0zM376.4,222.8h4.0v4.0h-4.0zM376.9,222.9h4.0v4.0h-4.0zM377.5,223.0h4.0v4.0h-4.0zM378.0,223.1h4.0v4.0h-4.0zM378.5,223.1h4.0v4.0h-4.0zM379.0,223.2h4.0v4.0h-4.0zM379.6,223.3h4.0v4.0h-4.0zM380.1,223.3h4.0v4.0h-4.0zM380.6,223.4h4.0v4.0h-4.0zM381.2,223.5h4.0v4.0h-4.0zM381.7,223.5h4.0v4.0h-4.0zM382.2,223.5h4.0v4.0h-4.0zM382.8,223.6h4.0v4.0h-4.0zM383.3,223.6h4.0v4.0h-4.0zM383.8,223.7h4.0v4.0h-4.0zM384.3,223.7h4.0v4.0h-4.0zM384.9,223.7h4.0v4.0h-4.0zM385.4,223.8h4.0v4.0h-4.0zM385.9,223.8h4.0v4.0h-4.0zM386.5,223.8h4.0v4.0h-4.0zM387.0,223.9h4.0v4.0h-4.0zM387.5,223.9h4.0v4.0h-4.0zM388.1,223.9h4.0v4.0h-4.0zM388.6,223.9h4.0v4.0h-4.0zM389.1,224.0h4.0v4.0h-4.0zM389.7,224.0h4.0v4.0h-4.0zM390.2,224.0h4.0v4.0h-4.0zM390.7,224.0h4.0v4.0h-4.0zM391.2,224.0h4.0v4.0h-4.0zM391.8,224.1h4.0v4.0h-4.0zM392.3,224.1h4.0v4.0h-4.0zM392.8,224.1h4.0v4.0h-4.0zM393.4,224.1h4.0v4.0h-4.0zM393.9,224.1h4.0v4.0h-4.0zM394.4,224.1h4.0v4.0h-4.0zM395.0,224.2h4.0v4.0h-4.0zM395.5,224.2h4.0v4.0h-4.0zM396.0,224.2h4.0v4.0h-4.0zM396.5,224.2h4.0v4.0h-4.0zM397.1,224.2h4.0v4.0h-4.0zM397.6,224.2h4.0v4.0h-4.0zM398.1,224.2h4.0v4.0h-4.0zM398.7,224.2h4.0v4.0h-4.0zM399.2,224.3h4.0v4.0h-4.0zM399.7,224.3h4.0v4.0h-4.0zM400.3,224.3h4.0v4.0h-4.0zM400.8,224.3h4.0v4.0h-4.0zM401.3,224.3h4.0v4.0h-4.0zM401.8,224.3h4.0v4.0h-4.0zM402.4,224.3h4.0v4.0h-4.0zM402.9,224.3h4.0v4.0h-4.0zM403.4,224.3h4.0v4.0h-4.0zM404.0,224.3h4.0v4.0h-4.0zM404.5,224.3h4.0v4.0h-4.0zM405.0,224.3h4.0v4.0h-4.0zM405.6,224.4h4.0v4.0h-4.0zM406.1,224.4h4.0v4.0h-4.0zM406.6,224.4h4.0v4.0h-4.0zM407.1,224.4h4.0v4.0h-4.0zM407.7,224.4h4.0v4.0h-4.0zM408.2,224.4h4.0v4.0h-4.0zM408.7,224.4h4.0v4.0h-4.0zM409.3,224.4h4.0v4.0h-4.0zM409.8,224.4h4.0v4.0h-4.0zM410.3,224.4h4.0v4.0h-4.0zM410.9,224.4h4.0v4.0h-4.0zM411.4,224.4h4.0v4.0h-4.0zM411.9,224.4h4.0v4.0h-4.0zM412.4,224.4h4.0v4.0h-4.0zM413.0,224.4h4.0v4.0h-4.0zM413.5,224.4h4.0v4.0h-4.0zM414.0,224.4h4.0v4.0h-4.0zM414.6,224.4h4.0v4.0h-4.0zM415.1,224.4h4.0v4.0h-4.0zM415.6,224.4h4.0v4.0h-4.0zM416.2,224.4h4.0v4.0h-4.0zM416.7,224.4h4.0v4.0h-4.0zM417.2,224.4h4.0v4.0h-4.0zM417.8,224.4h4.0v4.0h-4.0zM418.3,224.4h4.0v4.0h-4.0zM418.8,224.4h4.0v4.0h-4.0zM419.3,224.4h4.0v4.0h-4.0zM419.9,224.4h4.0v4.0h-4.0zM420.4,224.4h4.0v4.0h-4.0zM420.9,224.4h4.0v4.0h-4.0zM421.5,224.4h4.0v4.0h-4.0zM422.0,224.4h4.0v4.0h-4.0zM422.5,224.4h4.0v4.0h-4.0zM423.1,224.4h4.0v4.0h-4.0zM423.6,224.4h4.0v4.0h-4.0zM424.1,224.4h4.0v4.0h-4.0zM424.6,224.4h4.0v4.0h-4.0zM425.2,224.4h4.0v4.0h-4.0zM425.7,224.4h4.0v4.0h-4.0zM426.2,224.4h4.0v4.0h-4.0zM426.8,224.4h4.0v4.0h-4.0zM427.3,224.4h4.0v4.0h-4.0zM427.8,224.4h4.0v4.0h-4.0zM428.4,224.4h4.0v4.0h-4.0zM428.9,224.4h4.0v4.0h-4.0zM429.4,224.4h4.0v4.0h-4.0zM429.9,224.4h4.0v4.0h-4.0zM430.5,224.4h4.0v4.0h-4.0zM431.0,224.4h4.0v4.0h-4.0zM431.5,224.4h4.0v4.0h-4.0zM432.1,224.4h4.0v4.0h-4.0zM432.6,224.4h4.0v4.0h-4.0zM433.1,224.4h4.0v4.0h-4.0zM433.7,224.4h4.0v4.0h-4.0zM434.2,224.4h4.0v4.0h-4.0zM434.7,224.3h4.0v4.0h-4.0zM435.2,224.3h4.0v4.0h-4.0zM435.8,224.3h4.0v4.0h-4.0zM436.3,224.3h4.0v4.0h-4.0zM436.8,224.3h4.0v4.0h-4.0zM437.4,224.3h4.0v4.0h-4.0zM437.9,224.3h4.0v4.0h-4.0zM438.4,224.3h4.0v4.0h-4.0zM439.0,224.3h4.0v4.0h-4.0zM439.5,224.3h4.0v4.0h-4.0zM440.0,224.3h4.0v4.0h-4.0zM440.5,224.2h4.0v4.0h-4.0zM441.1,224.2h4.0v4.0h-4.0zM441.6,224.2h4.0v4.0h-4.0zM442.1,224.2h4.0v4.0h-4.0zM442.7,224.2h4.0v4.0h-4.0zM443.2,224.2h4.0v4.0h-4.0zM443.7,224.2h4.0v4.0h-4.0zM444.3,224.1h4.0v4.0h-4.0zM444.8,224.1h4.0v4.0h-4.0zM445.3,224.1h4.0v4.0h-4.0zM445.9,224.1h4.0v4.0h-4.0zM446.4,224.1h4.0v4.0h-4.0zM446.9,224.0h4.0v4.0h-4.0zM447.4,224.0h4.0v4.0h-4.0zM448.0,224.0h4.0v4.0h-4.0zM448.5,224.0h4.0v4.0h-4.0zM449.0,223.9h4.0v4.0h-4.0zM449.6,223.9h4.0v4.0h-4.0zM450.1,223.9h4.0v4.0h-4.0zM450.6,223.8h4.0v4.0h-4.0zM451.2,223.8h4.0v4.0h-4.0zM451.7,223.7h4.0v4.0h-4.0zM452.2,223.7h4.0v4.0h-4.0zM452.7,223.7h4.0v4.0h-4.0zM453.3,223.6h4.0v4.0h-4.0zM453.8,223.5h4.0v4.0h-4.0zM454.3,223.5h4.0v4.0h-4.0zM454.9,223.4h4.0v4.0h-4.0zM455.4,223.3h4.0v4.0h-4.0zM455.9,223.2h4.0v4.0h-4.0zM456.5,223.2h4.0v4.0h-4.0zM457.0,223.1h4.0v4.0h-4.0zM457.5,222.9h4.0v4.0h-4.0zM458.0,222.8h4.0v4.0h-4.0zM458.6,222.7h4.0v4.0h-4.0zM459.1,222.5h4.0v4.0h-4.0zM459.6,222.2h4.0v4.0h-4.0zM460.2,222.1h4.0v4.0h-4.0zM460.7,221.8h4.0v4.0h-4.0zM461.2,221.4h4.0v4.0h-4.0zM461.8,221.2h4.0v4.0h-4.0zM462.3,220.6h4.0v4.0h-4.0zM462.8,220.0h4.0v4.0h-4.0zM463.3,219.5h4.0v4.0h-4.0zM463.7,218.8h4.0v4.0h-4.0zM464.2,218.0h4.0v4.0h-4.0zM464.6,217.0h4.0v4.0h-4.0zM464.9,216.4h4.0v4.0h-4.0zM465.1,215.4h4.0v4.0h-4.0zM465.3,214.8h4.0v4.0h-4.0zM465.5,214.1h4.0v4.0h-4.0zM465.8,212.6h4.0v4.0h-4.0zM466.0,211.5h4.0v4.0h-4.0zM466.2,210.9h4.0v4.0h-4.0zM466.4,209.6h4.0v4.0h-4.0zM466.5,208.2h4.0v4.0h-4.0zM466.7,207.1h4.0v4.0h-4.0zM467.0,203.7h4.0v4.0h-4.0zM467.2,200.0h4.0v4.0h-4.0zM467.5,195.7h4.0v4.0h-4.0zM467.8,189.8h4.0v4.0h-4.0zM468.0,184.6h4.0v4.0h-4.0zM468.2,177.2h4.0v4.0h-4.0zM468.6,159.6h4.0v4.0h-4.0zM469.0,130.3h4.0v4.0h-4.0zM469.4,86.8h4.0v4.0h-4.0zM469.8,31.7h4.0v4.0h-4.0zM470.9,72.2h4.0v4.0h-4.0zM471.3,120.0h4.0v4.0h-4.0zM471.7,153.5h4.0v4.0h-4.0zM472.1,174.0h4.0v4.0h-4.0zM472.4,184.3h4.0v4.0h-4.0zM472.6,189.8h4.0v4.0h-4.0zM472.8,193.5h4.0v4.0h-4.0zM473.1,198.7h4.0v4.0h-4.0zM473.3,202.8h4.0v4.0h-4.0zM473.6,205.7h4.0v4.0h-4.0zM473.8,207.3h4.0v4.0h-4.0zM474.0,208.8h4.0v4.0h-4.0zM474.1,210.0h4.0v4.0h-4.0zM474.3,211.0h4.0v4.0h-4.0zM474.5,211.9h4.0v4.0h-4.0zM474.7,213.1h4.0v4.0h-4.0zM474.8,213.9h4.0v4.0h-4.0zM475.0,214.6h4.0v4.0h-4.0zM475.2,215.2h4.0v4.0h-4.0zM475.5,216.4h4.0v4.0h-4.0zM475.9,217.1h4.0v4.0h-4.0zM476.2,218.1h4.0v4.0h-4.0zM476.6,218.7h4.0v4.0h-4.0zM477.0,219.3h4.0v4.0h-4.0zM477.5,219.8h4.0v4.0h-4.0zM478.0,220.4h4.0v4.0h-4.0zM478.5,220.8h4.0v4.0h-4.0zM479.1,221.2h4.0v4.0h-4.0zM479.6,221.6h4.0v4.0h-4.0zM480.1,221.8h4.0v4.0h-4.0zM480.7,222.0h4.0v4.0h-4.0zM481.2,222.2h4.0v4.0h-4.0zM481.7,222.4h4.0v4.0h-4.0zM482.3,222.5h4.0v4.0h-4.0zM482.8,222.7h4.0v4.0h-4.0zM483.3,222.8h4.0v4.0h-4.0zM483.8,222.9h4.0v4.0h-4.0zM484.4,223.0h4.0v4.0h-4.0zM484.9,223.0h4.0v4.0h-4.0zM485.4,223.1h4.0v4.0h-4.0zM486.0,223.2h4.0v4.0h-4.0zM486.5,223.2h4.0v4.0h-4.0zM487.0,223.3h4.0v4.0h-4.0zM487.6,223.3h4.0v4.0h-4.0zM488.1,223.4h4.0v4.0h-4.0zM488.6,223.4h4.0v4.0h-4.0zM489.2,223.4h4.0v4.0h-4.0zM489.7,223.5h4.0v4.0h-4.0zM490.2,223.5h4.0v4.0h-4.0zM490.7,223.5h4.0v4.0h-4.0zM491.3,223.5h4.0v4.0h-4.0zM491.8,223.6h4.0v4.0h-4.0zM492.3,223.6h4.0v4.0h-4.0zM492.9,223.6h4.0v4.0h-4.0zM493.4,223.6h4.0v4.0h-4.0zM493.9,223.6h4.0v4.0h-4.0zM494.5,223.7h4.0v4.0h-4.0zM495.0,223.7h4.0v4.0h-4.0zM495.5,223.7h4.0v4.0h-4.0zM496.0,223.7h4.0v4.0h-4.0zM496.6,223.7h4.0v4.0h-4.0zM497.1,223.7h4.0v4.0h-4.0zM497.6,223.7h4.0v4.0h-4.0zM498.2,223.7h4.0v4.0h-4.0zM498.7,223.7h4.0v4.0h-4.0zM499.2,223.7h4.0v4.0h-4.0zM499.8,223.8h4.0v4.0h-4.0zM500.3,223.8h4.0v4.0h-4.0zM500.8,223.8h4.0v4.0h-4.0zM501.3,223.8h4.0v4.0h-4.0zM501.9,223.8h4.0v4.0h-4.0zM502.4,223.8h4.0v4.0h-4.0zM502.9,223.8h4.0v4.0h-4.0zM503.5,223.8h4.0v4.0h-4.0zM504.0,223.8h4.0v4.0h-4.0zM504.5,223.8h4.0v4.0h-4.0zM505.1,223.8h4.0v4.0h-4.0zM505.6,223.8h4.0v4.0h-4.0zM506.1,223.8h4.0v4.0h-4.0zM506.6,223.8h4.0v4.0h-4.0zM507.2,223.8h4.0v4.0h-4.0zM507.7,223.8h4.0v4.0h-4.0zM508.2,223.8h4.0v4.0h-4.0zM508.8,223.8h4.0v4.0h-4.0zM509.3,223.8h4.0v4.0h-4.0zM509.8,223.8h4.0v4.0h-4.0zM510.4,223.8h4.0v4.0h-4.0zM510.9,223.8h4.0v4.0h-4.0zM511.4,223.8h4.0v4.0h-4.0zM512.0,223.8h4.0v4.0h-4.0zM512.5,223.9h4.0v4.0h-4.0zM513.0,223.9h4.0v4.0h-4.0zM513.5,223.9h4.0v4.0h-4.0zM514.1,223.9h4.0v4.0h-4.0zM514.6,223.9h4.0v4.0h-4.0zM515.1,223.9h4.0v4.0h-4.0zM515.7,223.9h4.0v4.0h-4.0zM516.2,223.9h4.0v4.0h-4.0zM516.7,223.9h4.0v4.0h-4.0zM517.3,223.9h4.0v4.0h-4.0zM517.8,223.9h4.0v4.0h-4.0zM518.3,223.9h4.0v4.0h-4.0zM518.8,223.9h4.0v4.0h-4.0zM519.4,223.9h4.0v4.0h-4.0zM519.9,223.9h4.0v4.0h-4.0zM520.4,223.9h4.0v4.0h-4.0zM521.0,223.9h4.0v4.0h-4.0zM521.5,223.9h4.0v4.0h-4.0zM522.0,223.9h4.0v4.0h-4.0zM522.6,223.9h4.0v4.0h-4.0zM523.1,223.9h4.0v4.0h-4.0zM523.6,223.9h4.0v4.0h-4.0zM524.1,223.9h4.0v4.0h-4.0zM524.7,223.9h4.0v4.0h-4.0zM525.2,223.9h4.0v4.0h-4.0zM525.7,223.9h4.0v4.0h-4.0zM526.3,223.9h4.0v4.0h-4.0zM526.8,223.9h4.0v4.0h-4.0zM527.3,223.9h4.0v4.0h-4.0zM527.9,223.9h4.0v4.0h-4.0zM528.4,223.9h4.0v4.0h-4.0zM528.9,223.9h4.0v4.0h-4.0zM529.4,224.0h4.0v4.0h-4.0zM530.0,224.0h4.0v4.0h-4.0zM530.5,224.0h4.0v4.0h-4.0zM531.0,224.0h4.0v4.0h-4.0zM531.6,224.0h4.0v4.0h-4.0zM532.1,224.0h4.0v4.0h-4.0zM532.6,224.0h4.0v4.0h-4.0zM533.2,224.0h4.0v4.0h-4.0zM533.7,224.0h4.0v4.0h-4.0zM534.2,224.0h4.0v4.0h-4.0zM534.7,224.0h4.0v4.0h-4.0zM535.3,224.0h4.0v4.0h-4.0zM535.8,224.0h4.0v4.0h-4.0zM536.3,224.0h4.0v4.0h-4.0zM536.9,224.0h4.0v4.0h-4.0zM537.4,224.0h4.0v4.0h-4.0zM537.9,224.0h4.0v4.0h-4.0zM538.5,224.0h4.0v4.0h-4.0zM539.0,224.0h4.0v4.0h-4.0zM539.5,224.0h4.0v4.0h-4.0zM540.1,224.0h4.0v4.0h-4.0zM540.6,224.0h4.0v4.0h-4.0zM541.1,224.0h4.0v4.0h-4.0zM541.6,224.1h4.0v4.0h-4.0zM542.2,224.1h4.0v4.0h-4.0zM542.7,224.1h4.0v4.0h-4.0zM543.2,224.1h4.0v4.0h-4.0zM543.8,224.1h4.0v4.0h-4.0zM544.3,224.1h4.0v4.0h-4.0zM544.8,224.1h4.0v4.0h-4.0zM545.4,224.1h4.0v4.0h-4.0zM545.9,224.1h4.0v4.0h-4.0zM546.4,224.1h4.0v4.0h-4.0zM546.9,224.1h4.0v4.0h-4.0zM547.5,224.1h4.0v4.0h-4.0zM548.0,224.1h4.0v4.0h-4.0zM548.5,224.1h4.0v4.0h-4.0zM549.1,224.1h4.0v4.0h-4.0zM549.6,224.1h4.0v4.0h-4.0zM550.1,224.1h4.0v4.0h-4.0zM550.7,224.1h4.0v4.0h-4.0zM551.2,224.1h4.0v4.0h-4.0zM551.7,224.2h4.0v4.0h-4.0zM552.2,224.2h4.0v4.0h-4.0zM552.8,224.2h4.0v4.0h-4.0zM553.3,224.2h4.0v4.0h-4.0zM553.8,224.2h4.0v4.0h-4.0zM554.4,224.2h4.0v4.0h-4.0zM554.9,224.2h4.0v4.0h-4.0zM555.4,224.2h4.0v4.0h-4.0zM556.0,224.2h4.0v4.0h-4.0zM556.5,224.2h4.0v4.0h-4.0zM557.0,224.2h4.0v4.0h-4.0zM557.5,224.2h4.0v4.0h-4.0zM558.1,224.2h4.0v4.0h-4.0zM558.6,224.2h4.0v4.0h-4.0zM559.1,224.2h4.0v4.0h-4.0zM559.7,224.2h4.0v4.0h-4.0zM560.2,224.2h4.0v4.0h-4.0zM560.7,224.3h4.0v4.0h-4.0zM561.3,224.3h4.0v4.0h-4.0zM561.8,224.3h4.0v4.0h-4.0zM562.3,224.3h4.0v4.0h-4.0zM562.8,224.3h4.0v4.0h-4.0zM563.4,224.3h4.0v4.0h-4.0zM563.9,224.3h4.0v4.0h-4.0zM564.4,224.3h4.0v4.0h-4.0zM565.0,224.3h4.0v4.0h-4.0zM565.5,224.3h4.0v4.0h-4.0zM566.0,224.3h4.0v4.0h-4.0zM566.6,224.3h4.0v4.0h-4.0zM567.1,224.3h4.0v4.0h-4.0zM567.6,224.3h4.0v4.0h-4.0zM568.2,224.3h4.0v4.0h-4.0zM568.7,224.3h4.0v4.0h-4.0zM569.2,224.3h4.0v4.0h-4.0zM569.7,224.4h4.0v4.0h-4.0zM570.3,224.4h4.0v4.0h-4.0zM570.8,224.4h4.0v4.0h-4.0zM571.3,224.4h4.0v4.0h-4.0zM571.9,224.4h4.0v4.0h-4.0zM572.4,224.4h4.0v4.0h-4.0zM572.9,224.4h4.0v4.0h-4.0zM573.5,224.4h4.0v4.0h-4.0zM574.0,224.4h4.0v4.0h-4.0zM574.5,224.4h4.0v4.0h-4.0zM575.0,224.4h4.0v4.0h-4.0zM575.6,224.4h4.0v4.0h-4.0zM576.1,224.4h4.0v4.0h-4.0zM576.6,224.4h4.0v4.0h-4.0zM577.2,224.4h4.0v4.0h-4.0zM577.7,224.4h4.0v4.0h-4.0zM578.2,224.4h4.0v4.0h-4.0zM578.8,224.4h4.0v4.0h-4.0zM579.3,224.3h4.0v4.0h-4.0zM579.8,224.3h4.0v4.0h-4.0zM580.3,224.3h4.0v4.0h-4.0zM580.9,224.3h4.0v4.0h-4.0zM581.4,224.3h4.0v4.0h-4.0zM581.9,224.3h4.0v4.0h-4.0zM582.5,224.3h4.0v4.0h-4.0zM583.0,224.3h4.0v4.0h-4.0zM583.5,224.3h4.0v4.0h-4.0zM584.1,224.3h4.0v4.0h-4.0zM584.6,224.3h4.0v4.0h-4.0zM585.1,224.3h4.0v4.0h-4.0zM585.6,224.3h4.0v4.0h-4.0zM586.2,224.3h4.0v4.0h-4.0zM586.7,224.3h4.0v4.0h-4.0zM587.2,224.3h4.0v4.0h-4.0zM587.8,224.3h4.0v4.0h-4.0zM588.3,224.3h4.0v4.0h-4.0zM588.8,224.3h4.0v4.0h-4.0zM589.4,224.2h4.0v4.0h-4.0zM589.9,224.2h4.0v4.0h-4.0zM590.4,224.2h4.0v4.0h-4.0zM590.9,224.2h4.0v4.0h-4.0zM591.5,224.2h4.0v4.0h-4.0zM592.0,224.2h4.0v4.0h-4.0zM592.5,224.2h4.0v4.0h-4.0zM593.1,224.2h4.0v4.0h-4.0zM593.6,224.2h4.0v4.0h-4.0zM594.1,224.2h4.0v4.0h-4.0zM594.7,224.2h4.0v4.0h-4.0zM595.2,224.2h4.0v4.0h-4.0zM595.7,224.2h4.0v4.0h-4.0zM596.3,224.2h4.0v4.0h-4.0zM596.8,224.2h4.0v4.0h-4.0zM597.3,224.2h4.0v4.0h-4.0zM597.8,224.1h4.0v4.0h-4.0zM598.4,224.1h4.0v4.0h-4.0zM598.9,224.1h4.0v4.0h-4.0zM599.4,224.1h4.0v4.0h-4.0zM600.0,224.1h4.0v4.0h-4.0zM600.5,224.1h4.0v4.0h-4.0zM601.0,224.1h4.0v4.0h-4.0zM601.6,224.1h4.0v4.0h-4.0zM602.1,224.1h4.0v4.0h-4.0zM602.6,224.1h4.0v4.0h-4.0zM603.1,224.1h4.0v4.0h-4.0zM603.7,224.1h4.0v4.0h-4.0zM604.2,224.1h4.0v4.0h-4.0zM604.7,224.0h4.0v4.0h-4.0zM605.3,224.0h4.0v4.0h-4.0zM605.8,224.0h4.0v4.0h-4.0zM606.3,224.0h4.0v4.0h-4.0zM606.9,224.0h4.0v4.0h-4.0zM607.4,224.0h4.0v4.0h-4.0zM607.9,224.0h4.0v4.0h-4.0zM608.4,224.0h4.0v4.0h-4.0z" fill="#000"/>
<path d="M80.60,228.15 L107.77,228.00 L109.87,227.66 L110.76,227.01 L111.75,225.49 L112.08,225.73 L113.07,227.26 L114.18,227.79 L117.60,228.02 L124.67,227.86 L126.66,227.41 L127.66,226.65 L128.54,224.95 L129.09,223.85 L129.42,223.98 L130.64,226.50 L131.52,227.29 L133.18,227.77 L138.81,227.98 L147.76,227.78 L149.97,227.36 L150.96,226.72 L151.85,225.29 L152.51,224.03 L152.84,224.13 L154.05,226.37 L154.94,227.05 L156.60,227.38 L159.47,227.18 L161.46,226.55 L162.78,225.56 L163.78,223.98 L164.66,221.06 L165.43,215.84 L166.54,204.35 L166.76,203.69 L167.09,205.11 L168.41,218.48 L169.19,222.37 L170.07,224.58 L171.18,225.90 L172.72,226.73 L175.26,227.21 L179.24,227.22 L182.00,226.74 L183.55,225.96 L184.54,224.82 L185.31,223.00 L186.09,219.09 L187.19,209.45 L187.30,209.22 L187.63,210.41 L188.63,218.08 L189.18,219.79 L189.51,220.02 L189.95,219.56 L190.62,217.09 L191.50,209.37 L192.16,202.60 L192.38,201.98 L192.72,203.51 L194.04,217.37 L194.81,221.38 L195.70,223.59 L196.58,224.62 L197.58,225.05 L198.57,224.95 L199.56,224.20 L200.45,222.56 L201.22,219.50 L202.10,212.39 L202.77,206.36 L202.99,205.79 L203.32,207.08 L204.64,219.03 L205.42,222.50 L206.30,224.45 L207.30,225.48 L208.51,225.98 L209.84,225.94 L210.94,225.32 L211.82,223.99 L212.60,221.30 L213.37,215.23 L214.14,207.55 L214.25,207.35 L214.59,209.05 L215.69,220.20 L216.46,223.73 L217.35,225.52 L218.45,226.54 L220.22,227.22 L224.09,227.69 L237.34,227.95 L252.03,227.80 L254.35,227.44 L255.57,226.73 L256.34,226.21 L256.89,226.36 L258.33,227.31 L260.32,227.66 L265.84,227.56 L269.26,227.07 L271.03,226.35 L272.13,225.37 L273.02,223.80 L273.79,221.12 L274.68,214.86 L275.56,207.15 L275.67,206.89 L275.89,207.23 L277.44,220.03 L278.21,223.20 L279.09,225.00 L280.20,226.09 L281.86,226.80 L284.95,227.20 L290.36,227.09 L294.56,226.48 L297.10,225.62 L298.87,224.44 L300.19,222.86 L301.30,220.61 L302.29,217.07 L303.17,211.47 L304.06,200.94 L304.94,180.18 L306.16,138.47 L306.38,136.54 L306.71,140.78 L308.14,189.59 L309.03,205.70 L309.91,213.92 L310.91,218.84 L312.01,221.82 L313.23,223.67 L314.77,225.01 L316.87,225.97 L320.18,226.65 L325.38,226.93 L330.79,226.64 L334.32,225.95 L336.64,224.96 L338.30,223.64 L339.62,221.82 L340.73,219.26 L341.72,215.32 L342.72,208.14 L343.60,195.79 L344.37,174.86 L345.48,116.38 L346.03,92.68 L346.14,91.86 L346.47,98.95 L347.91,174.88 L348.79,197.87 L349.68,209.24 L350.67,215.93 L351.78,219.96 L352.99,222.47 L354.43,224.18 L356.30,225.46 L358.95,226.41 L363.37,227.15 L372.21,227.67 L397.06,227.94 L431.53,227.74 L444.56,227.24 L450.97,226.53 L454.83,225.58 L457.37,224.41 L459.25,222.95 L460.80,220.99 L462.12,218.29 L463.34,214.21 L464.44,207.87 L465.44,197.72 L466.32,180.97 L467.09,152.74 L467.87,94.01 L468.64,-36.62 L469.41,-220.95 L469.52,-230.80 L469.63,-231.71 L470.08,-157.74 L470.96,46.64 L471.73,131.46 L472.51,170.36 L473.39,192.26 L474.38,204.93 L475.49,212.55 L476.70,217.31 L478.03,220.40 L479.58,222.59 L481.45,224.20 L483.88,225.42 L487.42,226.40 L493.27,227.16 L504.65,227.71 L536.90,228.04 L610.80,228.15" stroke="#f00" stroke-width="1.8" fill="none" stroke-linejoin="round"/>
<path d="M80.60,223.45 L80.93,223.95 L81.93,226.57 L82.81,227.47 L84.36,227.95 L89.99,228.19 L114.18,228.11 L116.50,227.80 L117.38,227.27 L118.49,225.56 L118.82,225.66 L119.81,227.14 L120.59,227.44 L121.36,227.16 L121.91,226.86 L123.46,227.83 L125.89,228.11 L132.07,228.04 L133.40,227.68 L134.50,226.88 L135.94,227.83 L138.15,228.12 L154.94,228.02 L158.80,227.69 L160.13,227.19 L161.01,226.28 L162.01,224.61 L162.34,224.67 L163.55,226.48 L164.44,226.94 L165.54,226.88 L166.54,226.25 L167.31,224.96 L168.19,222.69 L168.41,222.58 L168.97,223.59 L169.74,225.16 L170.40,225.65 L171.18,225.55 L172.06,224.72 L172.83,223.04 L173.61,219.59 L174.82,210.19 L175.04,209.61 L175.37,210.56 L176.70,220.70 L177.47,223.72 L178.36,225.42 L179.46,226.44 L181.12,227.09 L183.99,227.39 L186.53,227.14 L187.97,226.52 L188.85,225.56 L189.84,223.26 L190.51,221.77 L190.84,221.86 L192.27,225.12 L193.16,226.00 L194.26,226.28 L195.48,225.99 L196.58,225.10 L197.46,223.53 L198.24,220.74 L199.67,210.60 L199.89,210.10 L200.23,211.02 L201.44,219.38 L202.10,221.68 L202.66,222.51 L203.21,222.65 L203.76,222.18 L204.42,220.61 L205.20,216.54 L206.63,202.01 L206.74,201.71 L206.96,202.17 L208.51,218.16 L209.28,222.15 L210.17,224.45 L211.27,225.87 L212.82,226.81 L215.47,227.48 L221.43,227.92 L243.42,228.11 L252.69,227.92 L254.57,227.51 L256.34,226.29 L256.89,226.46 L258.33,227.50 L260.21,227.89 L268.27,227.99 L275.45,227.65 L278.21,227.09 L279.65,226.33 L280.64,225.21 L281.52,223.15 L282.30,219.49 L283.51,210.12 L283.73,209.72 L284.06,210.93 L285.39,221.01 L286.16,223.90 L287.05,225.54 L288.15,226.53 L289.92,227.21 L293.56,227.63 L302.07,227.63 L308.81,227.15 L312.45,226.41 L314.77,225.42 L316.43,224.08 L317.75,222.16 L318.86,219.34 L319.85,214.79 L320.74,207.36 L321.62,192.99 L322.61,160.90 L323.39,133.50 L323.61,131.46 L323.94,135.94 L325.38,187.56 L326.26,204.61 L327.14,213.31 L328.14,218.51 L329.24,221.67 L330.46,223.64 L332.00,225.07 L334.10,226.11 L337.31,226.87 L342.94,227.34 L351.33,227.34 L357.08,226.85 L360.39,226.10 L362.60,225.06 L364.26,223.62 L365.58,221.58 L366.69,218.62 L367.68,213.93 L368.56,206.40 L369.45,192.07 L370.33,163.97 L371.33,120.25 L371.55,116.07 L371.66,115.70 L371.99,121.58 L373.43,181.65 L374.31,201.15 L375.19,211.12 L376.19,217.09 L377.29,220.73 L378.51,223.02 L379.94,224.59 L381.82,225.76 L384.58,226.66 L389.33,227.35 L399.27,227.83 L427.44,228.00 L450.64,227.69 L460.02,227.12 L465.00,226.34 L468.09,225.32 L470.30,224.00 L471.95,222.31 L473.39,219.87 L474.60,216.41 L475.71,211.02 L476.70,202.32 L477.59,187.70 L478.36,162.23 L479.02,116.65 L479.69,10.59 L480.35,-260.26 L480.90,-532.69 L481.01,-529.77 L482.12,-12.74 L482.78,107.39 L483.44,157.91 L484.21,185.60 L485.10,201.24 L486.09,210.45 L487.20,216.09 L488.41,219.68 L489.74,222.05 L491.39,223.85 L493.49,225.19 L496.48,226.25 L501.11,227.06 L509.73,227.67 L531.05,228.06 L610.80,228.24" stroke="#00f" stroke-width="1.9" fill="none" stroke-linejoin="round"/>
</g>
<g font-size="10.7" fill="#000"><text x="80.90" y="241.8" text-anchor="middle">0</text><text x="125.08" y="241.8" text-anchor="middle">100</text><text x="169.27" y="241.8" text-anchor="middle">200</text><text x="213.45" y="241.8" text-anchor="middle">300</text><text x="257.63" y="241.8" text-anchor="middle">400</text><text x="301.82" y="241.8" text-anchor="middle">500</text><text x="346.00" y="241.8" text-anchor="middle">600</text><text x="390.18" y="241.8" text-anchor="middle">700</text><text x="434.37" y="241.8" text-anchor="middle">800</text><text x="478.55" y="241.8" text-anchor="middle">900</text><text x="522.73" y="241.8" text-anchor="middle">1000</text><text x="566.92" y="241.8" text-anchor="middle">1100</text><text x="611.10" y="241.8" text-anchor="middle">1200</text><text x="75.9" y="232.65" text-anchor="end">0</text><text x="75.9" y="206.33" text-anchor="end">2000</text><text x="75.9" y="180.01" text-anchor="end">4000</text><text x="75.9" y="153.69" text-anchor="end">6000</text><text x="75.9" y="127.37" text-anchor="end">8000</text><text x="75.9" y="101.05" text-anchor="end">10000</text><text x="75.9" y="74.73" text-anchor="end">12000</text><text x="75.9" y="48.41" text-anchor="end">14000</text></g>
<text transform="translate(38.2,205.0) rotate(-90)" font-size="15.45" fill="#000">Raman Intensity (au)</text>
<text x="292.6" y="259.5" font-size="15.3" fill="#000">Wavenumber (cm<tspan dy="-6.8" font-size="9.8">-1</tspan><tspan dy="6.8">)</tspan></text>
<!-- legend -->
<g>
<path d="M92.20,45.1h3M101.10,45.1h3M110.00,45.1h3M118.90,45.1h3M127.80,45.1h3" stroke="#222" stroke-width="0.8"/>
<path d="M87.05,42.90h4.4v4.4h-4.4zM95.95,42.90h4.4v4.4h-4.4zM104.85,42.90h4.4v4.4h-4.4zM113.75,42.90h4.4v4.4h-4.4zM122.65,42.90h4.4v4.4h-4.4zM131.55,42.90h4.4v4.4h-4.4z" fill="#000"/>
<path d="M88.75,65H133.75" stroke="#00f" stroke-width="1.7"/>
<path d="M88.75,84.5H133.75" stroke="#f00" stroke-width="1.7"/>
<text x="140.5" y="49" font-size="10.9">Exp</text>
<text x="138.6" y="69" font-size="10.9" fill="#00f">LDA</text>
<text x="138.6" y="88.5" font-size="10.9" fill="#f00">GGA</text>
</g>
<!-- arrows -->
<path d="M281.75,205.00L271.87,153.97" stroke="#000" stroke-width="1.60" fill="none"/><path d="M270.50,146.90L274.71,154.44L269.41,155.46z" fill="#000"/><path d="M315.00,158.00L310.57,102.58" stroke="#000" stroke-width="1.60" fill="none"/><path d="M310.00,95.40L313.34,103.36L307.96,103.79z" fill="#000"/><path d="M362.50,160.00L366.68,107.68" stroke="#000" stroke-width="1.60" fill="none"/><path d="M367.25,100.50L369.29,108.89L363.91,108.46z" fill="#000"/><path d="M473.20,74.50L506.06,65.33" stroke="#000" stroke-width="1.60" fill="none"/><path d="M513.00,63.40L505.83,68.20L504.38,63.00z" fill="#000"/>
<g fill="#000">
<text x="261.30" y="142.50" style="font-family:'Liberation Serif',serif;font-size:15px">ν</text><text x="268.90" y="142.50" style="font-family:'Liberation Sans',sans-serif;font-size:10.6px">1</text><text x="302.30" y="92.30" style="font-family:'Liberation Serif',serif;font-size:15px">ν</text><text x="309.90" y="92.30" style="font-family:'Liberation Sans',sans-serif;font-size:10.6px">2</text><text x="367.50" y="95.30" style="font-family:'Liberation Serif',serif;font-size:15px">ν</text><text x="375.10" y="95.30" style="font-family:'Liberation Sans',sans-serif;font-size:10.6px">3</text><text x="514.70" y="65.90" style="font-family:'Liberation Serif',serif;font-size:15px">ν</text><text x="522.30" y="65.90" style="font-family:'Liberation Sans',sans-serif;font-size:10.6px">4</text>
</g>
</svg>
</body></html>
